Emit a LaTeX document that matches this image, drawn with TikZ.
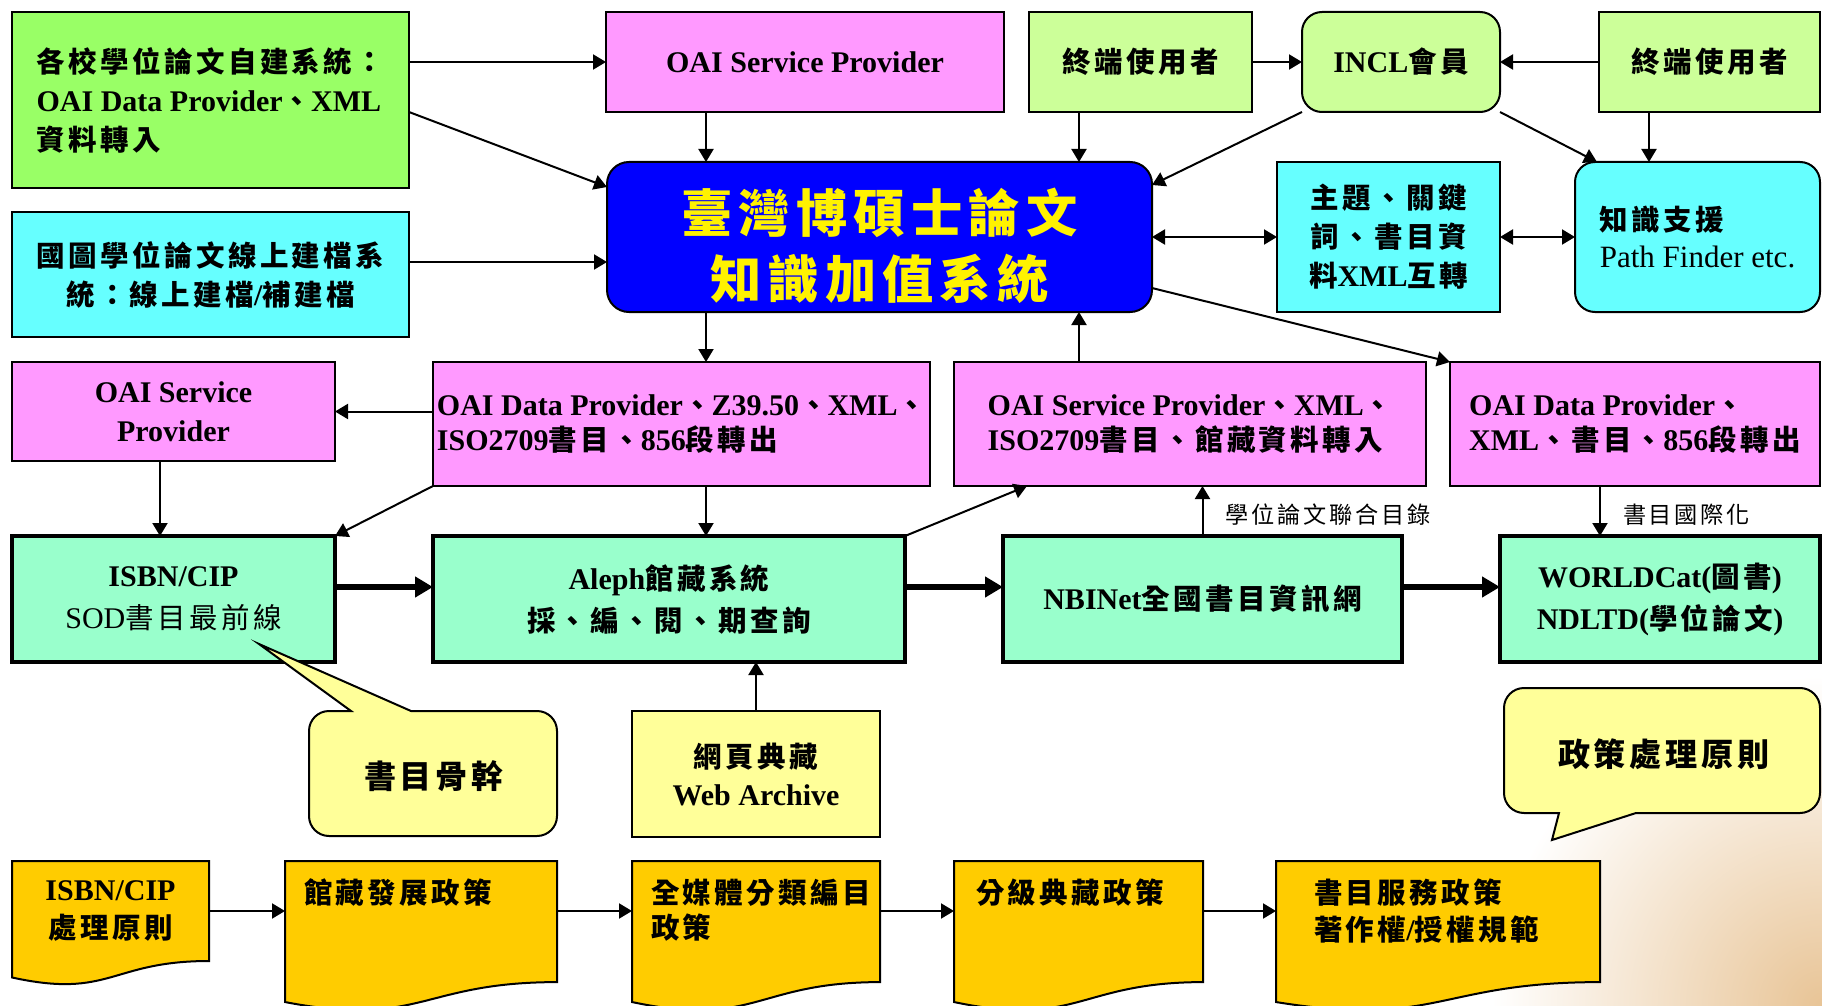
\documentclass[tikz,border=0pt]{standalone}
\usepackage{fontspec}
\setmainfont{Liberation Serif}
\newfontfamily\cjkfont{Noto Sans CJK TC}[Scale=0.95]
\usetikzlibrary{arrows.meta,calc}
% automatic switch to the CJK font
\XeTeXinterchartokenstate=1
\chardef\CJKcls=7
\newcount\cjkc
\cjkc="3000 \loop \XeTeXcharclass\cjkc=\CJKcls \ifnum\cjkc<"303F \advance\cjkc 1 \repeat
\cjkc="4E00 \loop \XeTeXcharclass\cjkc=\CJKcls \ifnum\cjkc<"9FFF \advance\cjkc 1 \repeat
\cjkc="FF00 \loop \XeTeXcharclass\cjkc=\CJKcls \ifnum\cjkc<"FFEF \advance\cjkc 1 \repeat
\XeTeXinterchartoks 0 \CJKcls = {\begingroup\cjkfont}
\XeTeXinterchartoks 4095 \CJKcls = {\begingroup\cjkfont}
\XeTeXinterchartoks \CJKcls 0 = {\endgroup}
\XeTeXinterchartoks \CJKcls 4095 = {\endgroup}
\XeTeXinterchartoks \CJKcls \CJKcls = {\hskip 0.12em\relax}

\definecolor{cA}{RGB}{153,255,102}
\definecolor{cCyan}{RGB}{102,255,255}
\definecolor{cPink}{RGB}{255,153,255}
\definecolor{cLime}{RGB}{204,255,153}
\definecolor{cMint}{RGB}{153,255,204}
\definecolor{cYel}{RGB}{255,255,153}
\definecolor{cDoc}{RGB}{255,204,0}
\definecolor{cBlue}{RGB}{0,0,255}
\definecolor{cTan}{RGB}{232,196,150}

\tikzset{
  base/.style={font=\bfseries\fontsize{15}{19.5}\selectfont, inner sep=2pt, outer sep=0pt},
  bx/.style={base, draw, line width=1pt, align=center},
  rbx/.style={bx, rounded corners=10pt},
  tbx/.style={base, draw, line width=2pt, align=center, fill=cMint, font=\bfseries\fontsize{15}{21}\selectfont},
  arr/.style={line width=1pt, -{Triangle[length=6.5pt,width=7.5pt]}},
  darr/.style={line width=1pt, {Triangle[length=6.5pt,width=7.5pt]}-{Triangle[length=6.5pt,width=7.5pt]}},
  tarr/.style={line width=3pt, -{Triangle[length=9pt,width=10pt]}},
  lbl/.style={font=\mdseries\fontsize{12.2}{15}\selectfont, inner sep=0pt},
  docst/.style={draw, line width=1pt, fill=cDoc},
  doctxt/.style={base, inner sep=0pt, align=left},
  callst/.style={draw, line width=1pt, fill=cYel},
  calltxt/.style={base, font=\bfseries\fontsize{16.9}{20}\selectfont},
}
\newcommand\mkbox[7]{\node[#6, minimum width={(#4-#2)*0.5pt}, minimum height={(#5-#3)*0.5pt}] (#1) at ({(#2+#4)/2},{(#3+#5)/2}) {#7};}
\newcommand\docshape[4]{%
  \draw[docst] (#2,861) -- (#3,861) -- (#3,{861+0.802*#4})
    .. controls ({(#2+#3)/2},{861+0.802*#4}) and ({(#2+#3)/2},{861+1.1075*#4}) .. (#2,{861+0.934*#4}) -- cycle;
  \coordinate (#1w) at (#2,911); \coordinate (#1e) at (#3,911);}

\begin{document}
\begin{tikzpicture}[x=0.5pt,y=-0.5pt]
\useasboundingbox (0,0) rectangle (1822,1006);
\clip (0,0) rectangle (1822,1006);
\fill[white] (0,0) rectangle (1822,1006);
% faint background photo tint
\shade[inner color=cTan, outer color=white] (1822,1006) circle (330);

% ---- row 1
\mkbox{A}{12}{12}{409}{188}{bx, fill=cA, align=left}{各校學位論文自建系統：\\OAI Data Provider、XML\\資料轉入}
\mkbox{OAIa}{606}{12}{1004}{112}{bx, fill=cPink}{OAI Service Provider}
\mkbox{U1}{1029}{12}{1252}{112}{bx, fill=cLime}{終端使用者}
\mkbox{INCL}{1302}{12}{1500}{112}{rbx, fill=cLime}{INCL會員}
\mkbox{U2}{1599}{12}{1820}{112}{bx, fill=cLime}{終端使用者}
% ---- row 2
\mkbox{B}{12}{212}{409}{337}{bx, fill=cCyan}{國圖學位論文線上建檔系\\統：線上建檔/補建檔}
\mkbox{C}{607}{162}{1152}{312}{bx, fill=cBlue, rounded corners=11pt, text=yellow, font=\bfseries\fontsize{27}{33}\selectfont}{\rule{0pt}{31pt}臺灣博碩士論文\\知識加值系統}
\mkbox{T}{1277}{162}{1500}{312}{bx, fill=cCyan}{主題、關鍵\\詞、書目資\\料XML互轉}
\mkbox{K}{1575}{162}{1820}{312}{rbx, fill=cCyan, align=left, font=\bfseries\fontsize{15}{18.5}\selectfont}{知識支援\\{\mdseries\fontsize{15.5}{18.5}\selectfont Path Finder etc.}}
% ---- row 3
\mkbox{SPL}{12}{362}{335}{461}{bx, fill=cPink}{OAI Service\\Provider}
\mkbox{DPZ}{433}{362}{930}{486}{bx, fill=cPink, align=left, inner sep=1pt, font=\bfseries\fontsize{15}{17.5}\selectfont}{OAI Data Provider、Z39.50、XML、\\ISO2709書目、856段轉出}
\mkbox{SPX}{954}{362}{1426}{486}{bx, fill=cPink, align=left, font=\bfseries\fontsize{15}{17.5}\selectfont}{OAI Service Provider、XML、\\ISO2709書目、館藏資料轉入}
\mkbox{DPX}{1450}{362}{1820}{486}{bx, fill=cPink, align=left, font=\bfseries\fontsize{15}{17.5}\selectfont}{OAI Data Provider、\\XML、書目、856段轉出}
% ---- row 4
\mkbox{ISBN}{12}{536}{335}{662}{tbx}{ISBN/CIP\\{\mdseries SOD書目最前線}}
\mkbox{Aleph}{433}{536}{905}{662}{tbx}{Aleph館藏系統\\採、編、閱、期查詢}
\mkbox{NBI}{1003}{536}{1402}{662}{tbx}{NBINet全國書目資訊網}
\mkbox{WC}{1500}{536}{1820}{662}{tbx}{WORLDCat(圖書)\\NDLTD(學位論文)}
% ---- row 5
\mkbox{Web}{632}{711}{880}{837}{bx, fill=cYel, font=\bfseries\fontsize{15}{19}\selectfont}{網頁典藏\\Web Archive}
% callouts
\draw[callst] (411,711) [rounded corners=10pt] -- (557,711) -- (557,836) -- (309,836) -- (309,711) [sharp corners] -- (351,711) -- (259,644) -- cycle;
\node[calltxt] (Call1) at (434,776) {書目骨幹};
\draw[callst] (1636,813) [rounded corners=10pt] -- (1820,813) -- (1820,688) -- (1504,688) -- (1504,813) [sharp corners] -- (1559,813) -- (1552,840) -- cycle;
\node[calltxt] (Call2) at (1664,754) {政策處理原則};

% ---- documents
\docshape{D1}{12}{209}{124.7}
\docshape{D2}{285}{557}{151}
\docshape{D3}{632}{880}{151}
\docshape{D4}{954}{1203}{151}
\docshape{D5}{1276}{1600}{151}
\node[doctxt, align=center, font=\bfseries\fontsize{15}{19}\selectfont] (T1) at (110.5,911) {ISBN/CIP\\處理原則};
\node[doctxt, anchor=north west] (T2) at (304,879) {館藏發展政策};
\node[doctxt, anchor=north west, font=\bfseries\fontsize{15}{17.5}\selectfont] (T3) at (651,879) {全媒體分類編目\\政策};
\node[doctxt, anchor=north west] (T4) at (976,879) {分級典藏政策};
\node[doctxt, anchor=north west, font=\bfseries\fontsize{15}{18.5}\selectfont] (T5) at (1314,879) {書目服務政策\\著作權/授權規範};
\draw[arr] (D1e) -- (D2w);
\draw[arr] (D2e) -- (D3w);
\draw[arr] (D3e) -- (D4w);
\draw[arr] (D4e) -- (D5w);

% ---- connectors
\draw[arr] (A.east |- OAIa.west) -- (OAIa.west);
\draw[arr] ([yshift=-6pt]A.east) -- ([yshift=25pt]C.west);
\coordinate (b1) at ([yshift=6.25pt]B.east);
\draw[arr] (b1) -- (b1 -| C.west);
\coordinate (o1) at ([xshift=-49.5pt]OAIa.south);
\draw[arr] (o1) -- (o1 |- C.north);
\coordinate (u1) at ([xshift=-30.75pt]U1.south);
\draw[arr] (u1) -- (u1 |- C.north);
\draw[arr] (U1.east) -- (INCL.west);
\draw[arr] (U2.west) -- (INCL.east);
\draw[arr] (INCL.south west) -- ([yshift=26pt]C.east);
\draw[arr] (INCL.south east) -- ([xshift=11pt]K.north west);
\coordinate (u2) at ([xshift=-30.25pt]U2.south);
\draw[arr] (u2) -- (u2 |- K.north);
\draw[darr] (C.east) -- (T.west);
\draw[darr] (T.east) -- (K.west);
\draw[arr] ([yshift=-25.5pt]C.east) -- (DPX.north west);
\coordinate (c1) at ([xshift=-86.75pt]C.south);
\draw[arr] (c1) -- (c1 |- DPZ.north);
\coordinate (s1) at ([xshift=-55.5pt]SPX.north);
\draw[arr] (s1) -- (s1 |- C.south);
\draw[arr] (DPZ.west |- SPL.east) -- (SPL.east);
\coordinate (s2) at ([xshift=-6.75pt]SPL.south);
\draw[arr] (s2) -- (s2 |- ISBN.north);
\draw[arr] (DPZ.south west) -- (ISBN.north east);
\coordinate (d1) at ([xshift=12.25pt]DPZ.south);
\draw[arr] (d1) -- (d1 |- Aleph.north);
\draw[arr] (Aleph.north east) -- ([xshift=36.5pt]SPX.south west);
\draw[arr] (NBI.north) -- node[lbl, right, xshift=11pt, yshift=-2pt] (L1) {學位論文聯合目錄} (NBI.north |- SPX.south);
\coordinate (d2) at ([xshift=-17.5pt]DPX.south);
\draw[arr] (d2) -- node[lbl, right, xshift=11pt, yshift=-2pt] (L2) {書目國際化} (d2 |- WC.north);
\coordinate (t1) at ([yshift=6pt]ISBN.east);
\draw[tarr] (t1) -- (t1 -| Aleph.west);
\coordinate (t2) at ([yshift=6pt]Aleph.east);
\draw[tarr] (t2) -- (t2 -| NBI.west);
\coordinate (t3) at ([yshift=6pt]NBI.east);
\draw[tarr] (t3) -- (t3 -| WC.west);
\draw[arr] (Web.north) -- (Web.north |- Aleph.south);
\end{tikzpicture}
\end{document}
